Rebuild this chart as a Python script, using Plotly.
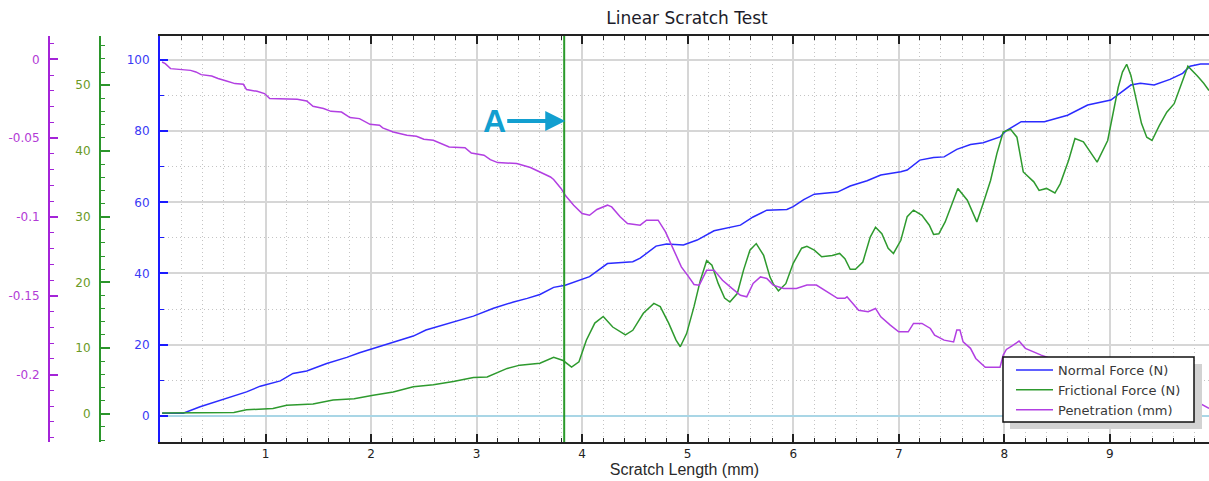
import plotly.graph_objects as go

# ---------------- data ----------------
nf_x = [0.02, 0.22, 0.38, 0.63, 0.82, 0.95, 1.14, 1.26, 1.39, 1.58, 1.77, 1.89, 2.02, 2.21, 2.40, 2.52, 2.72,
        2.97, 3.16, 3.35, 3.48, 3.60, 3.73, 3.84, 4.07, 4.24, 4.48, 4.55, 4.70, 4.80, 4.96, 5.09, 5.25, 5.37,
        5.50, 5.62, 5.75, 5.94, 6.00, 6.10, 6.20, 6.42, 6.54, 6.70, 6.83, 7.02, 7.08, 7.20, 7.33, 7.43, 7.55,
        7.68, 7.80, 7.96, 8.02, 8.16, 8.38, 8.60, 8.79, 9.01, 9.20, 9.29, 9.42, 9.57, 9.69, 9.76, 9.86, 9.94]
nf_y = [0.7, 0.7, 2.5, 4.9, 6.7, 8.3, 9.8, 11.9, 12.6, 14.7, 16.4, 17.7, 18.9, 20.8, 22.4, 24.1, 25.8,
        28.0, 30.2, 32.0, 33.0, 34.1, 36.1, 36.7, 39.1, 42.8, 43.3, 44.3, 47.7, 48.3, 48.0, 49.4, 52.0, 52.7,
        53.6, 55.9, 57.8, 58.0, 58.8, 60.8, 62.3, 62.9, 64.6, 66.1, 67.7, 68.6, 69.1, 71.9, 72.6, 72.8, 74.9,
        76.3, 76.8, 78.4, 80.2, 82.7, 82.7, 84.5, 87.4, 88.8, 93.0, 93.5, 93.0, 94.6, 96.3, 98.3, 98.9, 98.9]

ff_x = [0.02, 0.38, 0.70, 0.82, 0.95, 1.07, 1.20, 1.45, 1.64, 1.84,
        2.02, 2.21, 2.40, 2.59, 2.78, 2.97, 3.10, 3.29, 3.41, 3.60,
        3.73, 3.82, 3.90, 3.97, 4.04, 4.12, 4.20, 4.29, 4.41, 4.48,
        4.58, 4.68, 4.74, 4.82, 4.89, 4.93, 4.99, 5.06, 5.12, 5.18,
        5.23, 5.29, 5.35, 5.40, 5.47, 5.53, 5.59, 5.65, 5.72, 5.78,
        5.81, 5.86, 5.93, 6.00, 6.08, 6.13, 6.20, 6.27, 6.37, 6.44,
        6.49, 6.54, 6.59, 6.66, 6.73, 6.78, 6.84, 6.90, 6.95, 7.02,
        7.08, 7.14, 7.22, 7.29, 7.33, 7.38, 7.44, 7.51, 7.56, 7.65,
        7.74, 7.80, 7.87, 7.93, 7.99, 8.06, 8.12, 8.18, 8.28, 8.33,
        8.40, 8.48, 8.53, 8.61, 8.67, 8.75, 8.83, 8.88, 8.98, 9.03,
        9.08, 9.12, 9.16, 9.20, 9.25, 9.30, 9.35, 9.40, 9.47, 9.54,
        9.61, 9.69, 9.74, 9.83, 9.89, 9.94]
ff_y = [0.1, 0.1, 0.2, 0.6, 0.7, 0.8, 1.3, 1.5, 2.1, 2.3,
        2.8, 3.3, 4.1, 4.4, 4.9, 5.5, 5.6, 6.9, 7.4, 7.7,
        8.6, 8.1, 7.1, 7.9, 11.2, 13.8, 14.8, 13.2, 12.0, 12.7,
        15.3, 16.8, 16.3, 13.8, 11.2, 10.2, 12.2, 16.3, 20.3, 23.3,
        22.6, 19.8, 17.6, 17.0, 18.3, 21.9, 24.9, 25.9, 24.1, 20.8,
        19.8, 18.7, 19.8, 22.9, 25.2, 25.5, 24.9, 23.9, 24.1, 24.4,
        23.6, 22.0, 22.0, 23.1, 26.9, 28.4, 27.4, 25.2, 24.4, 26.4,
        30.0, 31.0, 30.2, 28.7, 27.3, 27.4, 29.2, 32.0, 34.3, 32.5,
        29.2, 32.0, 35.5, 39.6, 42.9, 43.3, 42.1, 36.8, 35.3, 34.0,
        34.3, 33.6, 35.0, 38.6, 41.9, 41.4, 39.6, 38.3, 41.6, 45.7,
        49.7, 52.0, 53.2, 51.5, 47.7, 44.2, 42.1, 41.6, 43.9, 45.9,
        47.2, 50.8, 52.9, 51.4, 50.3, 49.2]

pen_x = [0.02, 0.05, 0.10, 0.19, 0.29, 0.34, 0.39, 0.49, 0.55, 0.63,
         0.71, 0.79, 0.82, 0.92, 0.99, 1.04, 1.30, 1.39, 1.45, 1.55,
         1.62, 1.72, 1.80, 1.89, 1.99, 2.08, 2.11, 2.21, 2.34, 2.43,
         2.50, 2.59, 2.66, 2.74, 2.89, 2.95, 3.07, 3.13, 3.20, 3.38,
         3.51, 3.60, 3.70, 3.73, 3.80, 3.84, 3.92, 4.00, 4.07, 4.14,
         4.24, 4.28, 4.36, 4.43, 4.55, 4.61, 4.72, 4.79, 4.87, 4.94,
         5.01, 5.06, 5.11, 5.18, 5.25, 5.33, 5.42, 5.50, 5.56, 5.62,
         5.69, 5.75, 5.81, 5.91, 6.03, 6.13, 6.22, 6.32, 6.42, 6.49,
         6.51, 6.62, 6.71, 6.78, 6.83, 6.92, 7.00, 7.09, 7.14, 7.22,
         7.30, 7.34, 7.43, 7.52, 7.55, 7.58, 7.61, 7.68, 7.73, 7.82,
         7.96, 7.99, 8.02, 8.07, 8.14, 8.20, 8.28, 8.35, 8.62, 9.01,
         9.39, 9.76, 9.86, 9.94]
pen_y = [-0.0017, -0.0027, -0.0059, -0.0063, -0.0070, -0.0080, -0.0097, -0.0106, -0.0122, -0.0138,
         -0.0154, -0.0158, -0.0192, -0.0203, -0.0217, -0.0249, -0.0253, -0.0264, -0.0298, -0.0312,
         -0.0330, -0.0334, -0.0369, -0.0376, -0.0412, -0.0418, -0.0435, -0.0461, -0.0482, -0.0488,
         -0.0507, -0.0513, -0.0534, -0.0556, -0.0560, -0.0594, -0.0608, -0.0636, -0.0655, -0.0661,
         -0.0686, -0.0714, -0.0746, -0.0762, -0.0819, -0.0862, -0.0925, -0.0978, -0.0989, -0.0952,
         -0.0925, -0.0936, -0.0999, -0.1041, -0.1052, -0.1020, -0.1020, -0.1094, -0.1210, -0.1316,
         -0.1380, -0.1428, -0.1432, -0.1337, -0.1337, -0.1401, -0.1453, -0.1496, -0.1506, -0.1421,
         -0.1380, -0.1390, -0.1432, -0.1453, -0.1453, -0.1432, -0.1432, -0.1475, -0.1516, -0.1516,
         -0.1506, -0.1591, -0.1601, -0.1580, -0.1633, -0.1686, -0.1728, -0.1728, -0.1675, -0.1675,
         -0.1707, -0.1749, -0.1781, -0.1792, -0.1717, -0.1717, -0.1792, -0.1833, -0.1897, -0.1953,
         -0.1953, -0.1876, -0.1840, -0.1819, -0.1787, -0.1833, -0.1855, -0.1876, -0.1939, -0.2022,
         -0.2098, -0.2148, -0.2182, -0.2214]

x_ticks = [1, 2, 3, 4, 5, 6, 7, 8, 9]
nf_ticks = [0, 20, 40, 60, 80, 100]
ff_ticks = [0, 10, 20, 30, 40, 50]
pen_ticks = [0, -0.05, -0.1, -0.15, -0.2]
pen_ticktext = ["0", "-0.05", "-0.1", "-0.15", "-0.2"]
marker_x = 3.83           # position of event "A"
marker_label = "A"
marker_y = 82.9           # height of the arrow (normal-force scale)

title_text = "Linear Scratch Test"
x_title = "Scratch Length (mm)"
names = ["Normal Force (N)", "Frictional Force (N)", "Penetration (mm)"]

# ---------------- styling ----------------
W, H = 1209, 481
ML, MT, MB = 0, 36, 39
BLUE, GREEN, PURPLE = "#2b2bff", "#2e9a2e", "#b23fe2"
AX_BLUE, AX_GREEN, AX_PURPLE = "#1a1aff", "#2b962b", "#a424d8"
LBL_BLUE, LBL_GREEN, LBL_PURPLE = "#3a3af5", "#6a9a26", "#b23ad6"
TICKFONT = "DejaVu Sans, Verdana, sans-serif"

fig = go.Figure()
fig.add_trace(go.Scatter(x=nf_x, y=nf_y, name=names[0], mode="lines",
                         line=dict(color=BLUE, width=1.5), yaxis="y"))
fig.add_trace(go.Scatter(x=ff_x, y=ff_y, name=names[1], mode="lines",
                         line=dict(color=GREEN, width=1.5), yaxis="y2"))
fig.add_trace(go.Scatter(x=pen_x, y=pen_y, name=names[2], mode="lines",
                         line=dict(color=PURPLE, width=1.5), yaxis="y3"))

plot_h = H - MT - MB
def px_x(p):  # pixel column -> paper fraction
    return p / W
def px_y(p):  # pixel row -> paper fraction
    return (H - MB - p) / plot_h

grid_dot = "1px,3px"

fig.update_layout(
    width=W, height=H,
    margin=dict(l=ML, r=0, t=MT, b=MB, autoexpand=False),
    paper_bgcolor="white", plot_bgcolor="white",
    showlegend=True,
    title=dict(text=title_text, x=px_x(687), xanchor="center", y=1 - 18 / H, yanchor="middle",
               automargin=False,
               font=dict(family=TICKFONT, size=17, color="#1c1c2a")),
    xaxis=dict(
        domain=[160 / W, 1.0], range=[0, 9.94], anchor="y", automargin=False,
        tickmode="array", tickvals=x_ticks,
        ticks="inside", ticklen=8, tickwidth=2, tickcolor="#222",
        showline=True, linecolor="#222", linewidth=2, mirror="ticks",
        showgrid=True, gridcolor="#d6d6d6", gridwidth=2,
        zeroline=False,
        tickfont=dict(family=TICKFONT, size=12, color="#222"),
        title=dict(text=x_title, standoff=2,
                   font=dict(family="Liberation Sans, Arial, sans-serif", size=16, color="#2a2a2a")),
        minor=dict(tickmode="linear", tick0=0, dtick=0.2, ticks="inside", ticklen=4, tickwidth=1,
                   tickcolor="#222", showgrid=True, gridcolor="#c4c4c4", griddash=grid_dot, gridwidth=1),
    ),
    yaxis=dict(
        range=[-7.4, 106.8], anchor="x", side="left", automargin=False,
        tickmode="array", tickvals=nf_ticks,
        ticks="inside", ticklen=8, tickwidth=2, tickcolor=AX_BLUE,
        showline=True, linecolor=AX_BLUE, linewidth=2,
        showgrid=True, gridcolor="#d6d6d6", gridwidth=2,
        zeroline=True, zerolinecolor="#a9d6e6", zerolinewidth=1.5,
        tickfont=dict(family=TICKFONT, size=12, color=LBL_BLUE),
        ticklabelstandoff=6,
        minor=dict(tickmode="linear", tick0=0, dtick=10, ticks="inside", ticklen=4, tickwidth=1,
                   tickcolor=AX_BLUE, showgrid=True, gridcolor="#c4c4c4", griddash=grid_dot, gridwidth=1),
    ),
    yaxis2=dict(
        range=[-4.3, 57.5], overlaying="y", anchor="free", position=100 / W, side="left", automargin=False,
        tickmode="array", tickvals=ff_ticks,
        ticks="inside", ticklen=9, tickwidth=2, tickcolor=AX_GREEN,
        showline=True, linecolor=AX_GREEN, linewidth=2,
        showgrid=False, zeroline=False,
        tickfont=dict(family=TICKFONT, size=12, color=LBL_GREEN),
        ticklabelstandoff=6,
        minor=dict(tickmode="linear", tick0=0, dtick=2, ticks="inside", ticklen=4, tickwidth=1,
                   tickcolor=AX_GREEN, showgrid=False),
    ),
    yaxis3=dict(
        range=[-0.2427, 0.0148], overlaying="y", anchor="free", position=49 / W, side="left", automargin=False,
        tickmode="array", tickvals=pen_ticks, ticktext=pen_ticktext,
        ticks="inside", ticklen=8, tickwidth=2, tickcolor=AX_PURPLE,
        showline=True, linecolor=AX_PURPLE, linewidth=2,
        showgrid=False, zeroline=False,
        tickfont=dict(family=TICKFONT, size=12, color=LBL_PURPLE),
        ticklabelstandoff=6,
        minor=dict(tickmode="linear", tick0=0, dtick=0.01, ticks="inside", ticklen=4, tickwidth=1,
                   tickcolor=AX_PURPLE, showgrid=False),
    ),
    legend=dict(x=px_x(1011), xanchor="left", y=px_y(355), yanchor="top",
                bgcolor="rgba(0,0,0,0)", borderwidth=0, itemwidth=37, tracegroupgap=0,
                font=dict(family=TICKFONT, size=13, color="#383838")),
)

# vertical event line
fig.add_shape(type="line", xref="x", yref="paper", x0=marker_x, x1=marker_x, y0=0, y1=1,
              line=dict(color="#2a9a2a", width=2), layer="above")
# legend shadow + box
fig.add_shape(type="rect", xref="paper", yref="paper",
              x0=px_x(1010), x1=px_x(1202), y0=px_y(429), y1=px_y(364),
              fillcolor="#d2d2d2", line=dict(width=0), layer="above")
fig.add_shape(type="rect", xref="paper", yref="paper",
              x0=px_x(1003), x1=px_x(1194), y0=px_y(422), y1=px_y(357),
              fillcolor="white", line=dict(color="#111", width=1.5), layer="above")

# "A" annotation with arrow
fig.add_annotation(x=marker_x + 0.01, y=marker_y, xref="x", yref="y",
                   text="<b>%s</b>" % marker_label, showarrow=True,
                   ax=-71, ay=0, axref="pixel", ayref="pixel",
                   arrowhead=2, arrowsize=1.0, arrowwidth=4, arrowcolor="#129fd0",
                   font=dict(family="Liberation Sans, Arial, sans-serif", size=32, color="#129fd0"))

fig.write_html("out.html", config={"displayModeBar": False},
               post_script="document.body.style.margin='0';document.body.style.overflow='hidden';")
